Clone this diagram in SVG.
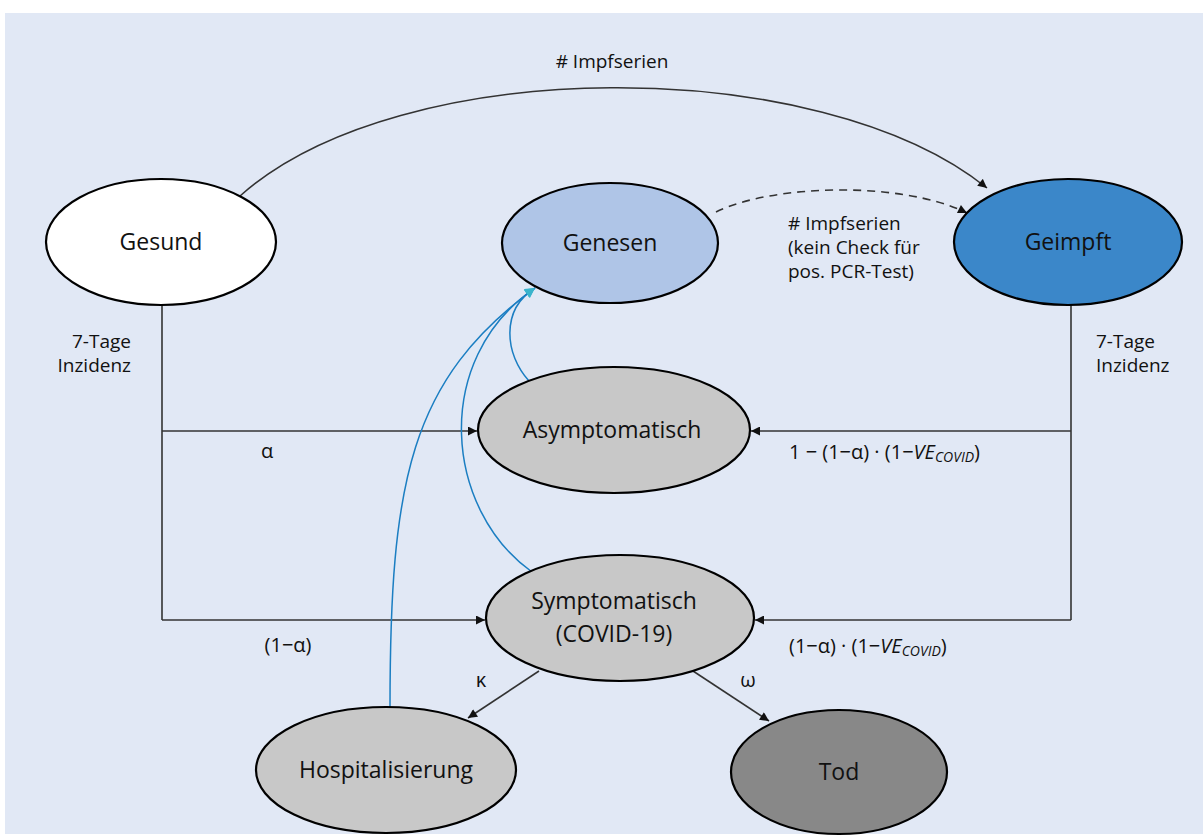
<svg xmlns="http://www.w3.org/2000/svg" width="1203" height="838" viewBox="0 0 1203 838">
<style>
.node{stroke:#000;stroke-width:2.2}
.lbl{font-family:"Open Sans","Noto Sans",sans-serif;font-size:23px;fill:#111;text-anchor:middle}
.t{font-family:"Open Sans","Noto Sans",sans-serif;font-size:19px;fill:#111}
.f{font-family:"Open Sans","Noto Sans",sans-serif;font-size:20px;fill:#111}
.c{fill:none;stroke:#333;stroke-width:1.6}
.b{fill:none;stroke:#1b7ec2;stroke-width:1.5}
</style>
<defs>
<marker id="ah" viewBox="0 0 10 10" refX="10" refY="5" markerWidth="11" markerHeight="9" markerUnits="userSpaceOnUse" orient="auto">
<path d="M0,0 L10,5 L0,10 z" fill="#111"/>
</marker>
<marker id="bh" viewBox="0 0 10 10" refX="10" refY="5" markerWidth="12" markerHeight="10" markerUnits="userSpaceOnUse" orient="auto">
<path d="M0,0 L10,5 L0,10 z" fill="#3ab4cc"/>
</marker>
</defs>
<rect x="0" y="0" width="1203" height="838" fill="#ffffff"/>
<rect x="5" y="13" width="1198" height="821" fill="#e1e8f5"/>

<g id="connectors">
<path class="c" d="M240,196 C400,53 820,53 987,188" marker-end="url(#ah)"/>
<path class="c" d="M716,212 C770,185 900,180 967,213" stroke-dasharray="8,6" marker-end="url(#ah)"/>
<path class="c" d="M162,305 V620"/>
<path class="c" d="M162,431 H477" marker-end="url(#ah)"/>
<path class="c" d="M162,620 H485" marker-end="url(#ah)"/>
<path class="c" d="M1071,305 V620"/>
<path class="c" d="M1071,431 H751" marker-end="url(#ah)"/>
<path class="c" d="M1071,620 H755" marker-end="url(#ah)"/>
<path class="c" d="M539,671 L468,718" marker-end="url(#ah)"/>
<path class="c" d="M693,671 L769,721" marker-end="url(#ah)"/>
<path class="b" d="M529,381 C505,355 500,310 535,288" marker-end="url(#bh)"/>
<path class="b" d="M532,572 C445,510 430,360 535,288" marker-end="url(#bh)"/>
<path class="b" d="M390,708 C390,480 410,380 535,288" marker-end="url(#bh)"/>
<text class="t" x="612" y="68" text-anchor="middle">#&#160;Impfserien</text>
<text class="t" x="788" y="230">#&#160;Impfserien</text>
<text class="t" x="788" y="254">(kein Check für</text>
<text class="t" x="788" y="278">pos. PCR-Test)</text>
<text class="t" x="131" y="348" text-anchor="end">7-Tage</text>
<text class="t" x="131" y="372" text-anchor="end">Inzidenz</text>
<text class="t" x="1096" y="348">7-Tage</text>
<text class="t" x="1096" y="372">Inzidenz</text>
<text class="f" x="267" y="458" text-anchor="middle">α</text>
<text class="f" x="288" y="652" text-anchor="middle">(1−α)</text>
<text class="f" x="789" y="459">1 − (1−α) · (1−<tspan font-style="italic">VE</tspan><tspan font-style="italic" font-size="14" dy="3">COVID</tspan><tspan dy="-3">)</tspan></text>
<text class="f" x="789" y="653">(1−α) · (1−<tspan font-style="italic">VE</tspan><tspan font-style="italic" font-size="14" dy="3">COVID</tspan><tspan dy="-3">)</tspan></text>
<text class="f" x="481" y="687" text-anchor="middle">κ</text>
<text class="f" x="748" y="687" text-anchor="middle">ω</text>
</g>

<g id="gesund"><ellipse class="node" cx="161" cy="242" rx="115" ry="63" fill="#ffffff"/><text class="lbl" x="161" y="250">Gesund</text></g>
<g id="genesen"><ellipse class="node" cx="610" cy="243" rx="108" ry="60" fill="#afc5e7"/><text class="lbl" x="610" y="251">Genesen</text></g>
<g id="geimpft"><ellipse class="node" cx="1068" cy="242" rx="114" ry="63" fill="#3b87c9"/><text class="lbl" x="1068" y="250">Geimpft</text></g>
<g id="asymptomatisch"><ellipse class="node" cx="614" cy="430" rx="136" ry="63" fill="#c8c8c8"/><text class="lbl" x="612" y="438">Asymptomatisch</text></g>
<g id="symptomatisch"><ellipse class="node" cx="620" cy="618" rx="134" ry="63" fill="#c8c8c8"/><text class="lbl" x="614" y="609">Symptomatisch</text><text class="lbl" x="614" y="642">(COVID-19)</text></g>
<g id="hospitalisierung"><ellipse class="node" cx="386" cy="770" rx="130" ry="63" fill="#c8c8c8"/><text class="lbl" x="386" y="778">Hospitalisierung</text></g>
<g id="tod"><ellipse class="node" cx="839" cy="772" rx="108" ry="62" fill="#888888"/><text class="lbl" x="839" y="780">Tod</text></g>
</svg>
